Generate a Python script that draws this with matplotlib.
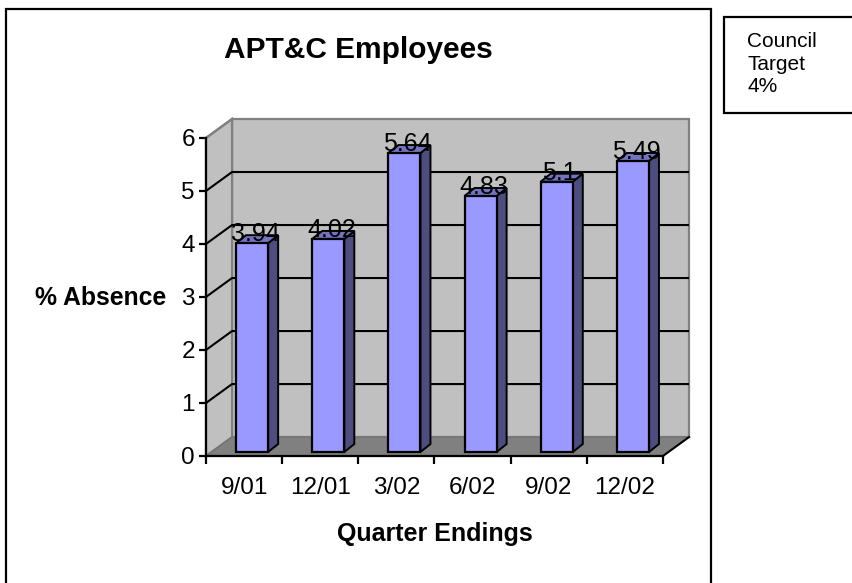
import matplotlib
matplotlib.use('Agg')
import matplotlib.pyplot as plt
from matplotlib.patches import Polygon, Rectangle

plt.rcParams['font.family'] = ['Liberation Sans', 'DejaVu Sans']

quarters = ['9/01', '12/01', '3/02', '6/02', '9/02', '12/02']
absence = [3.94, 4.02, 5.64, 4.83, 5.1, 5.49]
value_labels = ['3.94', '4.02', '5.64', '4.83', '5.1', '5.49']
y_ticks = [0, 1, 2, 3, 4, 5, 6]

W, H = 852, 583
# one category is 76px wide, one percent 53.2px high
px_x = 1 / 76
px_y = 1 / 53.2
depth_x = 26 * px_x
depth_y = 19 * px_y
bar_w = 32 * px_x
bar_dx = 10 * px_x
bar_dy = 8 * px_y
off_x = 8 * px_x
off_y = 4 * px_y

fig = plt.figure(figsize=(W / 100, H / 100), dpi=100, facecolor='white')

# chart frame and text box, both run off the page edge
fig.add_artist(Rectangle((6 / W, 1 - 600 / H), 705 / W, 591 / H, transform=fig.transFigure,
                         fc='white', ec='black', lw=1.6, zorder=-1))
fig.add_artist(Rectangle((724 / W, 1 - 113 / H), 140 / W, 96 / H, transform=fig.transFigure,
                         fc='white', ec='black', lw=1.6, zorder=-1))

ax = fig.add_axes([206 / W, 1 - 456 / H, 483 / W, 337 / H])
ax.set_xlim(0, 6 + depth_x)
ax.set_ylim(0, 6 + depth_y)
ax.patch.set_visible(False)

# walls and floor
ax.add_patch(Polygon([(depth_x, depth_y), (6 + depth_x, depth_y), (6 + depth_x, 6 + depth_y), (depth_x, 6 + depth_y)],
                     fc='#c0c0c0', ec='#808080', lw=1.6, zorder=1, clip_on=False))
ax.add_patch(Polygon([(0, 0), (depth_x, depth_y), (depth_x, 6 + depth_y), (0, 6)],
                     fc='#c0c0c0', ec='#808080', lw=1.6, zorder=1, clip_on=False))
ax.add_patch(Polygon([(0, 0), (6, 0), (6 + depth_x, depth_y), (depth_x, depth_y)],
                     fc='#808080', ec='#707070', lw=0.8, zorder=1, clip_on=False))

# gridlines run along the side wall, then the back wall
for v in y_ticks[1:-1]:
    ax.plot([0, depth_x, 6 + depth_x], [v, v + depth_y, v + depth_y], color='black', lw=1.5, zorder=2)
ax.plot([0, depth_x], [6, 6 + depth_y], color='#808080', lw=1.6, zorder=2, clip_on=False)

# bars
for i, v in enumerate(absence):
    x0 = i + 0.5 + off_x - bar_w / 2
    x1 = x0 + bar_w
    y0 = off_y
    y1 = off_y + v
    ax.add_patch(Polygon([(x1, y0), (x1 + bar_dx, y0 + bar_dy), (x1 + bar_dx, y1 + bar_dy), (x1, y1)],
                         fc='#4d4d80', ec='black', lw=1.4, zorder=3))
    ax.add_patch(Polygon([(x0, y1), (x1, y1), (x1 + bar_dx, y1 + bar_dy), (x0 + bar_dx, y1 + bar_dy)],
                         fc='#7373bf', ec='black', lw=1.4, zorder=3))
    ax.bar(x0, v, width=bar_w, bottom=y0, align='edge', color='#9999ff', edgecolor='black', lw=1.6, zorder=4)
    ax.text(x0 + bar_w / 2 + 3 * px_x, y1 + 9 * px_y, value_labels[i], ha='center', va='center',
            fontsize=18, color='black', zorder=5)

# axes
for s in ['top', 'right']:
    ax.spines[s].set_visible(False)
ax.spines['left'].set_bounds(0, 6)
ax.spines['bottom'].set_bounds(0, 6)
ax.spines['left'].set_linewidth(1.6)
ax.spines['bottom'].set_linewidth(1.6)
ax.spines['left'].set_zorder(6)
ax.spines['bottom'].set_zorder(6)
ax.set_yticks(y_ticks)
ax.set_xticks(range(7))
ax.set_xticklabels([])
ax.set_xticks([i + 0.5 for i in range(6)], quarters, minor=True)
ax.tick_params(axis='x', which='major', length=6, width=1.6, direction='out')
ax.tick_params(axis='x', which='minor', length=0, pad=15, labelsize=17.5)
ax.tick_params(axis='y', length=5, width=1.6, direction='out', pad=3, labelsize=17.5)
# the floor edge on the right
ax.plot([6, 6 + depth_x], [0, depth_y], color='black', lw=1.5, zorder=6, clip_on=False)

fig.text(358 / W, 1 - 50 / H, 'APT&C Employees', ha='center', va='center', fontsize=21.5, fontweight='bold')
fig.text(101 / W, 1 - 298 / H, '% Absence', ha='center', va='center', fontsize=17.8, fontweight='bold')
fig.text(434.5 / W, 1 - 534 / H, 'Quarter Endings', ha='center', va='center', fontsize=18, fontweight='bold')
fig.text(747 / W, 1 - 64 / H, 'Council\nTarget\n4%', ha='left', va='center', fontsize=15, linespacing=1.25)

fig.savefig('out.png', dpi=100)
